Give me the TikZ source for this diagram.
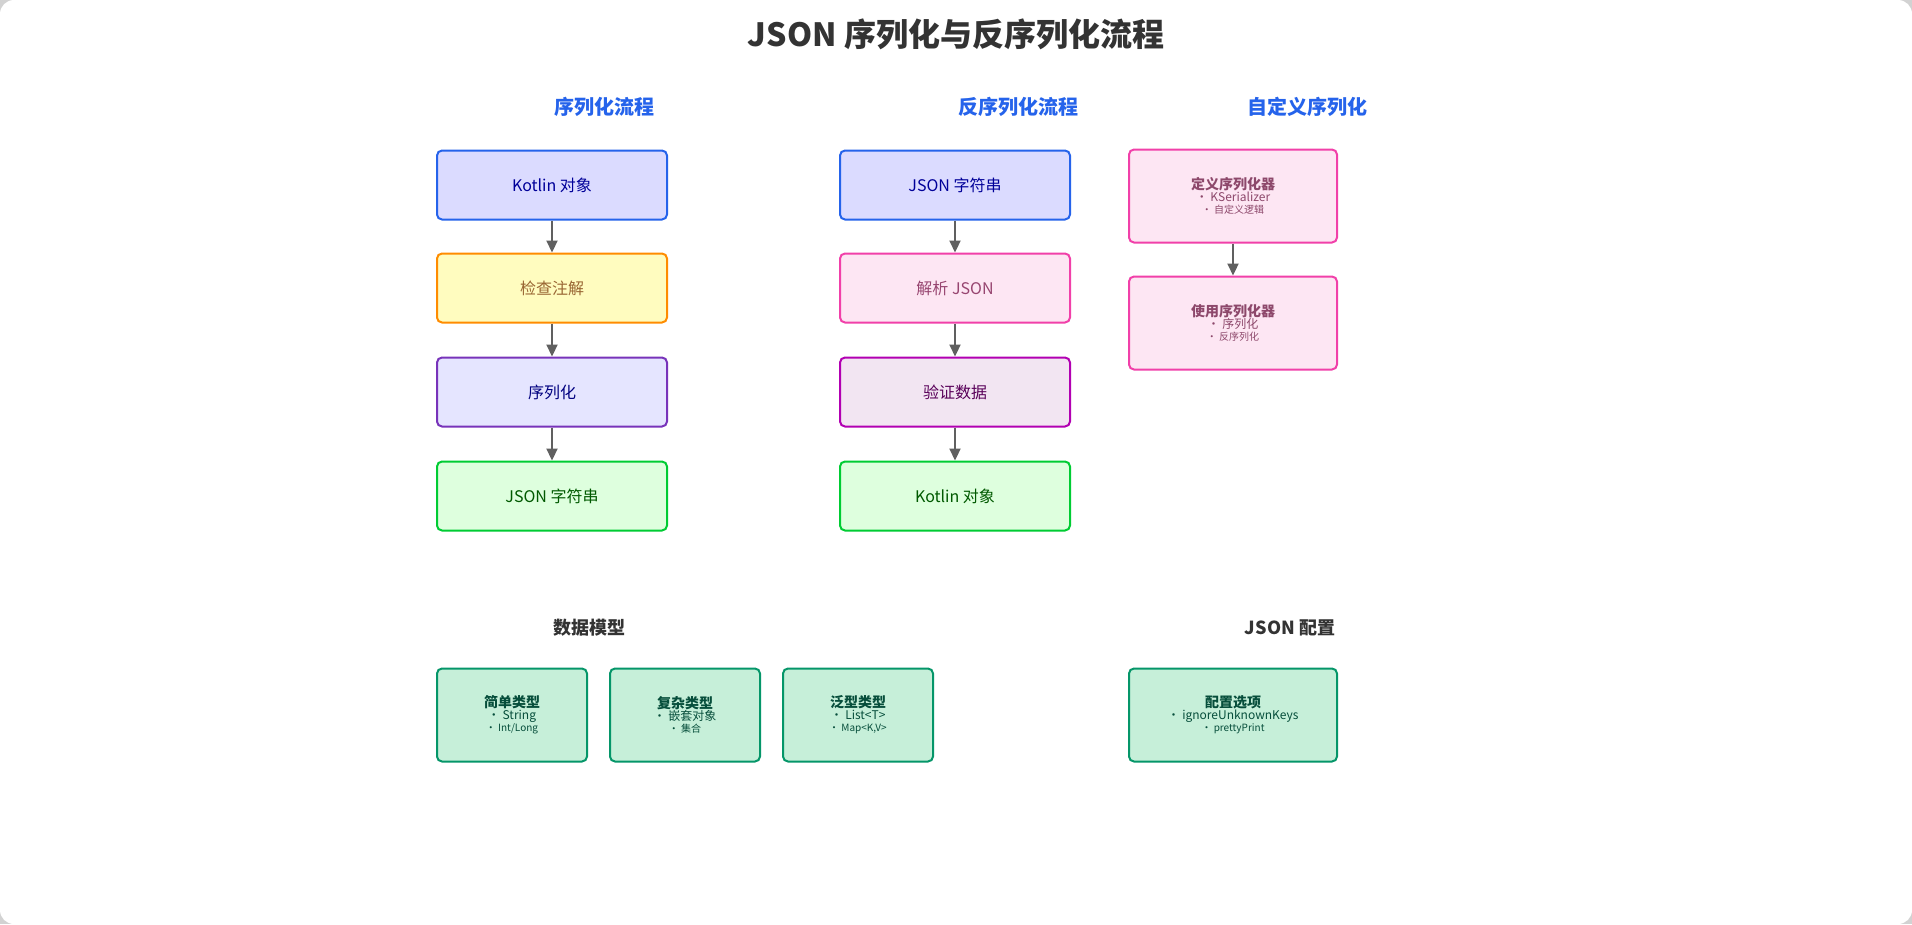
\documentclass[tikz,border=0pt]{standalone}
\usepackage{fontspec}
\setmainfont{Noto Sans CJK SC}
\usetikzlibrary{arrows.meta}
\definecolor{hblue}{HTML}{2563EB}
\definecolor{dark}{HTML}{333333}
\definecolor{ggb}{HTML}{059669}\definecolor{ggf}{HTML}{C6EFD9}\definecolor{ggt}{HTML}{064E3B}
\tikzset{
 x=1pt,y=-1pt,
 box/.style={draw, line width=2pt, rounded corners=5pt, minimum width=230pt, minimum height=69pt, font=\fontsize{16}{18}\selectfont, align=center},
 sbox/.style={draw, line width=2pt, rounded corners=5pt, minimum width=208pt, minimum height=93pt, align=center},
 gbox/.style={draw=ggb, fill=ggf, text=ggt, line width=2pt, rounded corners=5pt, minimum width=150pt, minimum height=93pt, align=center},
 hdr/.style={text=hblue, font=\fontsize{20}{22}\selectfont\bfseries},
 hdk/.style={text=dark, font=\fontsize{18}{20}\selectfont\bfseries},
 arr/.style={draw=gray!75!black, line width=2.2pt, -{Triangle[length=12pt,width=11pt]}},
}
\newcommand{\mybt}[3]{\fontsize{14}{22}\selectfont\bfseries #1\\\fontsize{12}{17}\selectfont\mdseries ·\ #2\\ ·\ #3}
\begin{document}
\begin{tikzpicture}
\fill[gray!35] (0,0) rectangle (1912,924);
\fill[white, rounded corners=14pt] (0,0) rectangle (1912,924);
\useasboundingbox (0,0) rectangle (1912,924);
\node[text=dark, font=\fontsize{32}{36}\selectfont\bfseries] (title) at (956,34) {JSON 序列化与反序列化流程};
\node[hdr] (h1) at (604,107) {序列化流程};
\node[hdr] (h2) at (1018,107) {反序列化流程};
\node[hdr] (h3) at (1307,107) {自定义序列化};
% left
\node[box, draw=hblue, fill=blue!14, text=blue!60!black] (a1) at (552,185) {Kotlin 对象};
\node[box, draw=orange!90!yellow, fill=yellow!25, text=brown!80!black] (a2) at (552,288) {检查注解};
\node[box, draw=blue!55!purple!80, fill=blue!10, text=blue!50!black] (a3) at (552,392) {序列化};
\node[box, draw=green!60!teal, fill=green!13, text=green!35!black] (a4) at (552,496) {JSON 字符串};
% middle
\node[box, draw=hblue, fill=blue!14, text=blue!60!black] (b1) at (955,185) {JSON 字符串};
\node[box, draw=magenta!75, fill=magenta!10, text=magenta!55!black] (b2) at (955,288) {解析 JSON};
\node[box, draw=violet!60!magenta, fill=violet!10, text=violet!70!black] (b3) at (955,392) {验证数据};
\node[box, draw=green!60!teal, fill=green!13, text=green!35!black] (b4) at (955,496) {Kotlin 对象};
% right
\node[sbox, draw=magenta!75, fill=magenta!10, text=magenta!50!black] (c1) at (1233,196) {\mybt{定义序列化器}{KSerializer}{自定义逻辑}};
\node[sbox, draw=magenta!75, fill=magenta!10, text=magenta!50!black] (c2) at (1233,323) {\mybt{使用序列化器}{序列化}{反序列化}};
\foreach \p/\q in {a1/a2,a2/a3,a3/a4,b1/b2,b2/b3,b3/b4,c1/c2} \draw[arr] (\p) -- (\q);
% bottom
\node[hdk] (h4) at (589,628) {数据模型};
\node[hdk] (h5) at (1290,628) {JSON 配置};
\node[gbox] (d1) at (512,715) {\mybt{简单类型}{String}{Int/Long}};
\node[gbox] (d2) at (685,715) {\mybt{复杂类型}{嵌套对象}{集合}};
\node[gbox] (d3) at (858,715) {\mybt{泛型类型}{List<T>}{Map<K,V>}};
\node[gbox, minimum width=208pt] (d4) at (1233,715) {\mybt{配置选项}{ignoreUnknownKeys}{prettyPrint}};
\end{tikzpicture}
\end{document}
